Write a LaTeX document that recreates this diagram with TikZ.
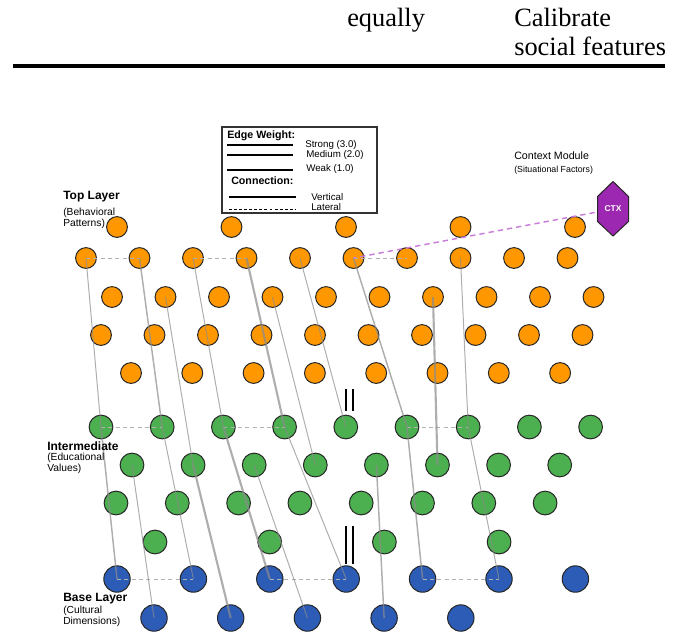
\documentclass[tikz,border=0pt]{standalone}
\usepackage{fontspec}
\setmainfont{Liberation Serif}
\setsansfont{Liberation Sans}

\definecolor{toporange}{HTML}{FF9800}
\definecolor{midgreen}{HTML}{4CAF50}
\definecolor{baseblue}{HTML}{2D5CB7}
\definecolor{ctxpurple}{HTML}{9C27B0}
\definecolor{ctxviolet}{HTML}{C97FD9}
\definecolor{edgegray}{HTML}{8C8C8C}

\begin{document}
\begin{tikzpicture}[
  x=0.75pt, y=-0.75pt,
  cell/.style={circle, draw=black!85, line width=0.75pt, inner sep=0pt},
  topnode/.style={cell, fill=toporange, minimum size=15.6pt},
  midnode/.style={cell, fill=midgreen, minimum size=17.8pt},
  basenode/.style={cell, fill=baseblue, minimum size=19.8pt},
  weakedge/.style={draw=edgegray, opacity=0.7, line width=0.75pt},
  midedge/.style={weakedge, line width=1.1pt},
  strongedge/.style={weakedge, line width=1.6pt},
  lateral/.style={draw=black!30, dash pattern=on 3pt off 2.5pt, line width=0.6pt},
  ctxlink/.style={draw=ctxviolet, dash pattern=on 4pt off 3pt, line width=1.1pt},
  layertitle/.style={font=\sffamily\bfseries\fontsize{9}{10}\selectfont, anchor=west, inner sep=0pt},
  layersub/.style={font=\sffamily\fontsize{7.7}{8.3}\selectfont, anchor=north west, align=left, inner sep=0pt},
  keytext/.style={font=\sffamily\fontsize{7.3}{8}\selectfont, anchor=west, inner sep=0pt},
  keyhead/.style={font=\sffamily\bfseries\fontsize{8}{9}\selectfont, anchor=west, inner sep=0pt},
  headtext/.style={font=\fontsize{19.8}{22}\selectfont, anchor=base west, inner sep=0pt}
]
  \useasboundingbox (0,0) rectangle (680,633);

  % table row above
  \node[headtext] (eq) at (347,26) {equally};
  \node[headtext] (cal) at (514,26) {Calibrate};
  \node[headtext] (soc) at (514,55.5) {social features};
  \draw[line width=2.6pt] (13,66) -- (665,66);

  % rows: name / last index / first x / spacing / y / style
  \foreach \row/\n/\xa/\dx/\y/\sty in {
      t0/4/117/114.5/227/topnode, t1/9/86/53.5/258/topnode,
      t2/9/112/53.5/297/topnode, t3/9/101/53.5/335/topnode,
      t4/7/131/61.3/373/topnode,
      m0/8/101/61.2/427/midnode, m1/7/132/61.1/465/midnode,
      m2/7/116/61.3/503/midnode, m3/3/155/114.7/542/midnode,
      b0/6/117/76.4/579/basenode, b1/4/154/76.7/618/basenode}
    \foreach \i in {0,...,\n}
      \node[\sty] (\row-\i) at ({\xa+\dx*\i},\y) {};

  % lateral links
  \foreach \a/\b in {t1-0/t1-1, t1-2/t1-3, t1-5/t1-6,
                     m0-0/m0-1, m0-2/m0-3, m0-5/m0-6,
                     b0-0/b0-1, b0-2/b0-3, b0-4/b0-5}
    \draw[lateral] (\a.center) -- (\b.center);

  % vertical links by weight
  \foreach \a/\b in {t1-0/m0-0, m0-1/b0-1, t2-1/m1-1, t1-2/m0-2, m0-3/b0-3,
                     t2-3/m1-3, t1-4/m0-4, t1-7/m0-6, m0-6/b0-5,
                     m1-0/b1-0, m1-2/b1-2}
    \draw[weakedge] (\a.center) -- (\b.center);
  \foreach \a/\b in {m0-0/b0-0, t1-1/m0-1, t1-5/m0-5, m0-5/b0-4, m1-4/b1-3}
    \draw[midedge] (\a.center) -- (\b.center);
  \foreach \a/\b in {m1-1/b1-1, m0-2/b0-2, t1-3/m0-3, t2-6/m1-5}
    \draw[strongedge] (\a.center) -- (\b.center);

  \draw[line width=1pt] (346,389) -- (346,411) (353,389) -- (353,411);
  \draw[line width=1pt] (346,526) -- (346,564) (353,526) -- (353,564);

  % context module
  \coordinate (ctx) at (613,209);
  \draw[ctxlink] (ctx) -- (t1-5.center);
  \filldraw[fill=ctxpurple, draw=black!85, line width=0.75pt]
    (ctx) ++(0,-27.5) -- ++(15.5,15) -- ++(0,25) -- ++(-15.5,14.5)
    -- ++(-15.5,-14.5) -- ++(0,-25) -- cycle;
  \node[font=\sffamily\bfseries\fontsize{6.3}{7}\selectfont, text=white] (ctxlbl) at (ctx) {CTX};
  \node[keytext, font=\sffamily\fontsize{8}{9}\selectfont] (ctxname) at (514,156) {Context Module};
  \node[keytext, font=\sffamily\fontsize{6.6}{7}\selectfont] (ctxsub) at (514,170) {(Situational Factors)};

  % layer labels
  \node[layertitle] (toplbl) at (63,197) {Top Layer};
  \node[layersub] (topsub) at (63,207.5) {(Behavioral\\Patterns)};
  \node[layertitle] (midlbl) at (47,446) {Intermediate};
  \node[layersub] (midsub) at (47,453) {(Educational\\Values)};
  \node[layertitle] (baselbl) at (63,598.5) {Base Layer};
  \node[layersub] (basesub) at (63,605.5) {(Cultural\\Dimensions)};

  % legend
  \draw[draw=black!80, line width=0.9pt] (222,127) rectangle (377,213);
  \node[keyhead] (ewt) at (227,135.5) {Edge Weight:};
  \draw[line width=2.2pt] (227,145) -- (293,145);
  \draw[line width=1.5pt] (227,154.7) -- (293,154.7);
  \draw[line width=0.8pt] (227,170) -- (293,170);
  \node[keytext] (kstrong) at (305,145) {Strong (3.0)};
  \node[keytext] (kmed) at (306,155) {Medium (2.0)};
  \node[keytext] (kweak) at (306,169) {Weak (1.0)};
  \node[keyhead] (conn) at (231,181) {Connection:};
  \draw[line width=0.9pt] (229,197) -- (296,197);
  \draw[line width=0.7pt, dash pattern=on 2.2pt off 1.6pt] (229,209) -- (296,209);
  \node[keytext] (kvert) at (311,197) {Vertical};
  \node[keytext] (klat) at (311,207.5) {Lateral};
\end{tikzpicture}
\end{document}
